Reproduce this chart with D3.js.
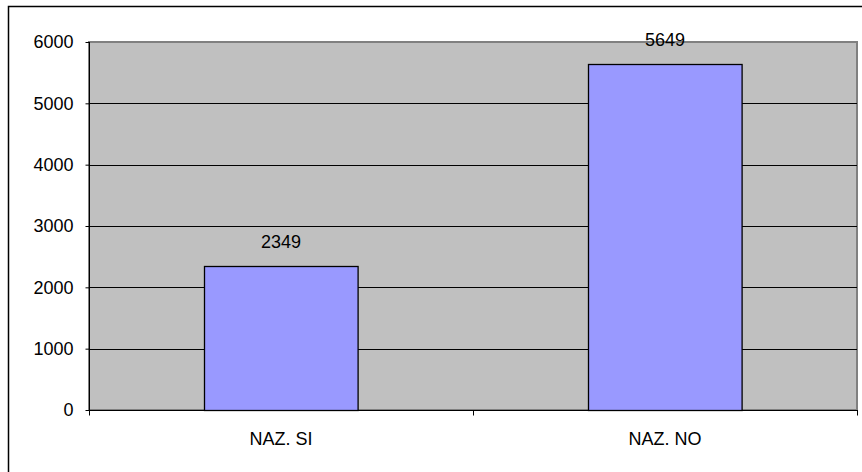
<!DOCTYPE html>
<html><head><meta charset="utf-8">
<script src="https://cdn.jsdelivr.net/npm/d3@7"></script>
<style>body{margin:0;background:#fff}svg{display:block}</style>
</head><body>
<svg id="c" width="862" height="472"></svg>
<script>
const categories = ["NAZ. SI", "NAZ. NO"];
const values = [2349, 5649];
const yTicks = [0, 1000, 2000, 3000, 4000, 5000, 6000];

const svg = d3.select("#c");
const font = "'Liberation Sans', Arial, sans-serif";
const fs = 18;
const L = 89, T = 42, R = 857, B = 410;

// outer chart border
svg.append("rect").attr("x", 8.5).attr("y", 6.5).attr("width", 860).attr("height", 470)
  .attr("fill", "#fff").attr("stroke", "#000").attr("stroke-width", 1.5);

const x = d3.scaleBand().domain(categories).range([L, R]).paddingInner(0.6).paddingOuter(0.3);
const y = d3.scaleLinear().domain([0, 6000]).range([B, T]);

// plot area
svg.append("rect").attr("x", L).attr("y", T).attr("width", R - L).attr("height", B - T)
  .attr("fill", "#c0c0c0").attr("stroke", "#808080").attr("stroke-width", 2);

// gridlines
svg.append("g").selectAll("line").data(yTicks.filter(d => d > 0 && d < 6000)).join("line")
  .attr("x1", L).attr("x2", R).attr("y1", d => Math.round(y(d)) + 0.5).attr("y2", d => Math.round(y(d)) + 0.5)
  .attr("stroke", "#000").attr("stroke-width", 1);

// bars
svg.append("g").selectAll("rect").data(values).join("rect")
  .attr("x", (d, i) => Math.round(x(categories[i])) + 0.5)
  .attr("y", d => Math.round(y(d)) + 0.5)
  .attr("width", x.bandwidth())
  .attr("height", d => B - Math.round(y(d)))
  .attr("fill", "#9999ff").attr("stroke", "#000").attr("stroke-width", 1.3);

// value labels
svg.append("g").selectAll("text").data(values).join("text")
  .attr("x", (d, i) => x(categories[i]) + x.bandwidth() / 2)
  .attr("y", d => y(d) - 17.5)
  .attr("text-anchor", "middle").attr("font-family", font).attr("font-size", fs).attr("fill", "#000")
  .text(d => d);

// y axis
const yAxis = d3.axisLeft(y).tickValues(yTicks).tickSize(4).tickPadding(12).tickFormat(d3.format("d"));
const gy = svg.append("g").attr("transform", `translate(${L + 0.5},0)`).call(yAxis);
gy.select(".domain").attr("stroke", "#000").attr("d", `M0,${T}V${B + 0.5}`);
gy.selectAll(".tick line").attr("stroke", "#000");
gy.selectAll("text").attr("font-family", font).attr("font-size", fs).attr("fill", "#000");

// x axis
const xEdges = d3.scaleLinear().domain([0, 2]).range([L, R]);
const gx = svg.append("g").attr("transform", `translate(0,${B + 0.5})`);
gx.append("line").attr("x1", L).attr("x2", R + 1).attr("stroke", "#000");
gx.selectAll(".tk").data([0, 1, 2]).join("line").attr("class", "tk")
  .attr("x1", d => Math.round(xEdges(d)) + 0.5).attr("x2", d => Math.round(xEdges(d)) + 0.5)
  .attr("y1", 0).attr("y2", 5).attr("stroke", "#000");
gx.selectAll("text").data(categories).join("text")
  .attr("x", d => x(d) + x.bandwidth() / 2).attr("y", 34.5)
  .attr("text-anchor", "middle").attr("font-family", font).attr("font-size", fs).attr("fill", "#000")
  .text(d => d);
</script>
</body></html>
